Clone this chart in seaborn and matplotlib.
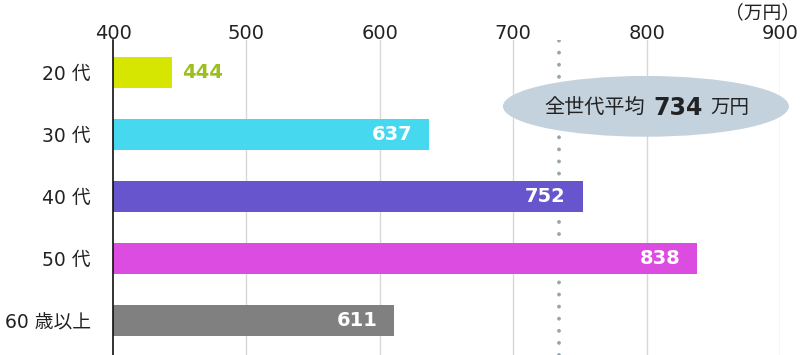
import matplotlib
matplotlib.use("Agg")
import matplotlib.pyplot as plt
import seaborn as sns
import pandas as pd
from matplotlib.patches import Ellipse
from matplotlib.transforms import offset_copy

categories = ["20 代", "30 代", "40 代", "50 代", "60 歳以上"]
values = [444, 637, 752, 838, 611]
colors = ["#d6e600", "#45d8ef", "#6655cc", "#dd4ce0", "#808080"]
average = 734
ticks = [400, 500, 600, 700, 800, 900]

sns.set_theme(style="white")
plt.rcParams["font.family"] = ["DejaVu Sans", "Noto Sans CJK JP"]

df = pd.DataFrame({"cat": categories, "val": values})

fig = plt.figure(figsize=(8, 3.55), dpi=100)
ax = fig.add_axes([113 / 800, 0, (780 - 113) / 800, 1 - 40 / 355])

sns.barplot(data=df, y="cat", x="val", hue="cat", palette=colors, legend=False,
            orient="h", width=0.5, saturation=1, ax=ax, zorder=3)
for p in ax.patches:
    # bars start at 400 on the axis
    p.set_x(400)
    p.set_width(p.get_width() - 400)
    p.set_edgecolor("none")

ax.set_xlim(400, 900)
ax.set_ylim(4.55, -0.53)
ax.set_xticks(ticks)
ax.xaxis.tick_top()
ax.tick_params(axis="x", length=0, labelsize=14, pad=-2, colors="#222222")
ax.tick_params(axis="y", length=0, labelsize=13.5, pad=16, colors="#222222")
ax.set_xlabel("")
ax.set_ylabel("")
for s in ["top", "right", "bottom"]:
    ax.spines[s].set_visible(False)
ax.spines["left"].set_color("#111111")
ax.spines["left"].set_linewidth(1.2)
ax.spines["left"].set_zorder(5)
for t in ticks[1:]:
    ax.axvline(t, color="#d8d8d8", lw=1, zorder=1)

ax.axvline(average, color="#96a6ab", lw=2.8, linestyle=(0, (0.01, 3.1)),
           dash_capstyle="round", zorder=2)

# value labels
for i, v in enumerate(values):
    if i == 0:
        tr = offset_copy(ax.transData, fig=fig, x=10, y=0, units="dots")
        ax.text(v, i, str(v), transform=tr, ha="left", va="center",
                fontsize=14, fontweight="bold", color="#9cbf1e", zorder=6)
    else:
        tr = offset_copy(ax.transData, fig=fig, x=-17, y=0, units="dots")
        ax.text(v, i, str(v), transform=tr, ha="right", va="center",
                fontsize=14, fontweight="bold", color="white", zorder=6)

# average ellipse
ell = Ellipse((799.5, 0.54), 214.4, 0.98, facecolor="#c4d2de", edgecolor="none",
              zorder=4, clip_on=False)
ax.add_patch(ell)
t1 = ax.text(799, 0.565, "全世代平均", ha="right", va="center", fontsize=14.5,
             color="#222222", zorder=6)
t2 = ax.annotate(f"{average}", xy=(1, 0.5), xycoords=t1, xytext=(6, 0),
                 textcoords="offset points", ha="left", va="center",
                 fontsize=17, fontweight="bold", color="#222222", zorder=6)
ax.annotate("万円", xy=(1, 0.5), xycoords=t2, xytext=(5, 0),
            textcoords="offset points", ha="left", va="center",
            fontsize=14, color="#222222", zorder=6)

fig.text(762 / 800, 1 - 18 / 355, "（万円）", ha="center", va="baseline",
         fontsize=13.5, color="#222222", family=["Noto Sans CJK JP"])

fig.savefig("out.png", dpi=100)
